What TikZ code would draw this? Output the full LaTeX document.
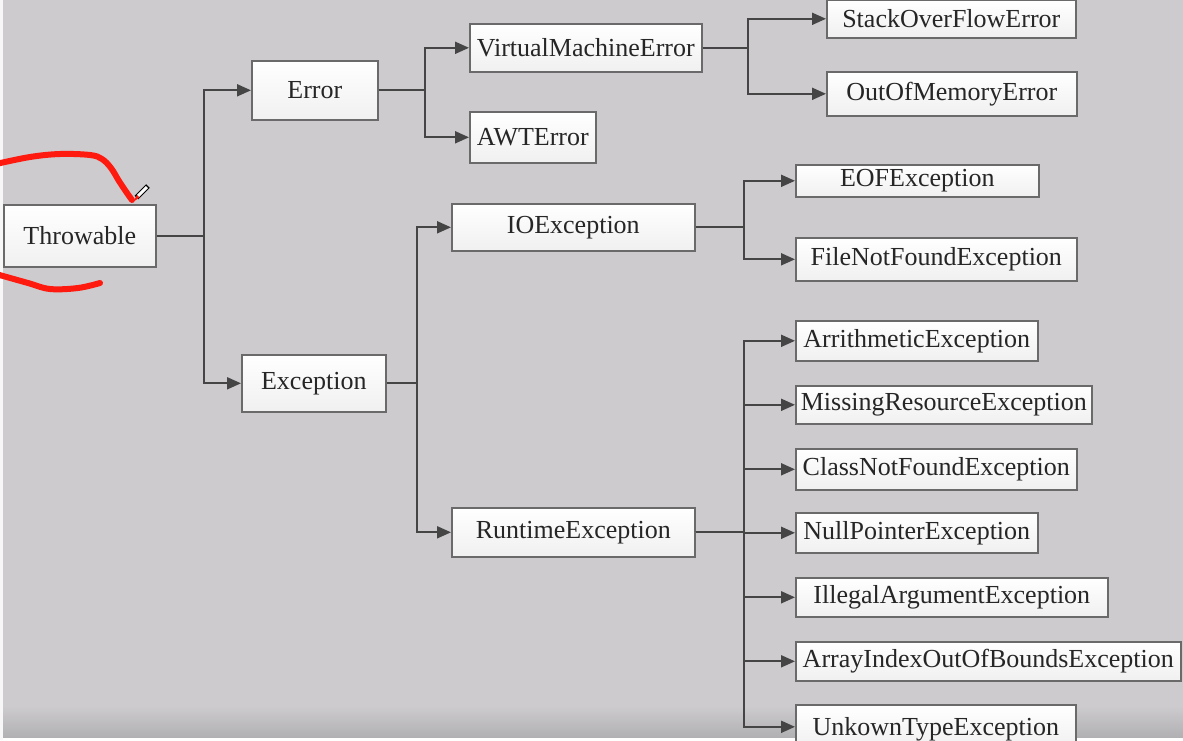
\documentclass[tikz,border=0pt]{standalone}
\usepackage{fontspec}
\setmainfont{Liberation Serif}
\usetikzlibrary{arrows.meta}
\definecolor{bg}{HTML}{CDCBCE}
\definecolor{bgdark}{HTML}{B0AFB1}
\definecolor{edge}{HTML}{6A6A6A}
\definecolor{wire}{HTML}{454545}
\definecolor{ink}{HTML}{262626}
\definecolor{boxlow}{HTML}{F0F0F0}
\definecolor{marker}{HTML}{FF1A10}
\tikzset{
  cls/.style={draw=edge, line width=1.6pt, top color=white, bottom color=boxlow,
    anchor=north west, inner sep=0pt, text=ink,
    font=\fontsize{26}{30}\selectfont},
  arr/.style={draw=wire, line width=2pt, -{Triangle[length=14pt,width=12pt]}},
}
\begin{document}
\begin{tikzpicture}[x=1pt,y=-1pt]
\useasboundingbox (0,0) rectangle (1183,740);
\clip (0,0) rectangle (1183,740);
% backdrop with darker band at the foot
\fill[bg] (0,0) rectangle (1183,740);
\shade[top color=bg, bottom color=bgdark] (0,706) rectangle (1183,738);
\fill[white] (0,738) rectangle (1183,740);
\fill[white!85!bg] (0,0) rectangle (3,740);

% class boxes
\node[cls, minimum width=152pt, minimum height=62pt] (thr) at (3,204) {Throwable};
\node[cls, minimum width=126pt, minimum height=59pt] (err) at (251,60) {Error};
\node[cls, minimum width=144pt, minimum height=57pt] (exc) at (241,354) {Exception};
\node[cls, minimum width=232pt, minimum height=48pt] (vme) at (469,23) {VirtualMachineError};
\node[cls, minimum width=126pt, minimum height=51pt] (awt) at (469,111) {AWTError};
\node[cls, minimum width=249pt, minimum height=38pt] (soe) at (826,-1) {StackOverFlowError};
\node[cls, minimum width=250pt, minimum height=44pt] (oom) at (826,71) {OutOfMemoryError};
\node[cls, minimum width=243pt, minimum height=47pt] (ioe) at (451,203) {IOException};
\node[cls, minimum width=243pt, minimum height=49pt] (rte) at (451,507) {RuntimeException};
\node[cls, minimum width=243pt, minimum height=32pt] (eof) at (795,164) {EOFException};
\node[cls, minimum width=281pt, minimum height=43pt] (fnf) at (795,237) {FileNotFoundException};
\node[cls, minimum width=242pt, minimum height=40pt] (ari) at (795,320) {ArrithmeticException};
\node[cls, minimum width=296pt, minimum height=38pt] (mre) at (795,385) {MissingResourceException};
\node[cls, minimum width=281pt, minimum height=41pt] (cnf) at (795,448) {ClassNotFoundException};
\node[cls, minimum width=242pt, minimum height=40pt] (npe) at (795,512) {NullPointerException};
\node[cls, minimum width=312pt, minimum height=39pt] (iae) at (795,577) {IllegalArgumentException};
\node[cls, minimum width=385pt, minimum height=39pt] (aio) at (795,641) {ArrayIndexOutOfBoundsException};
\node[cls, minimum width=280pt, minimum height=44pt, text depth=0pt] (ute) at (795,704) {UnkownTypeException};

% inheritance connectors
\draw[arr] (thr.east) -- ++(47,0) |- (err.west);
\draw[arr] (thr.east) -- ++(47,0) |- (exc.west);
\draw[arr] (err.east) -- ++(46,0) |- (vme.west);
\draw[arr] (err.east) -- ++(46,0) |- (awt.west);
\draw[arr] (vme.east) -- ++(45,0) |- (soe.west);
\draw[arr] (vme.east) -- ++(45,0) |- (oom.west);
\draw[arr] (exc.east) -- ++(30,0) |- (ioe.west);
\draw[arr] (exc.east) -- ++(30,0) |- (rte.west);
\draw[arr] (ioe.east) -- ++(48,0) |- (eof.west);
\draw[arr] (ioe.east) -- ++(48,0) |- (fnf.west);
\foreach \c in {ari,mre,cnf,npe,iae,aio,ute}
  \draw[arr] (rte.east) -- ++(48,0) |- (\c.west);

% red marker strokes round Throwable
\draw[marker, line width=6pt, line cap=round]
  plot[smooth, tension=0.6] coordinates {(-4,164) (30,157) (60,154) (90,155) (102,159) (111,168) (119,181) (127,193) (132,200)};
\draw[marker, line width=6pt, line cap=round]
  plot[smooth, tension=0.6] coordinates {(-4,274) (28,283) (50,289) (78,288) (100,283)};
% pen cursor
\draw[black, line width=5pt] (136.5,197.5) -- (148,186);
\draw[white, line width=3pt] (138,196) -- (147,187);
\fill[marker] (133,202) -- (137,195) -- (139.5,197.5) -- cycle;
\end{tikzpicture}
\end{document}
